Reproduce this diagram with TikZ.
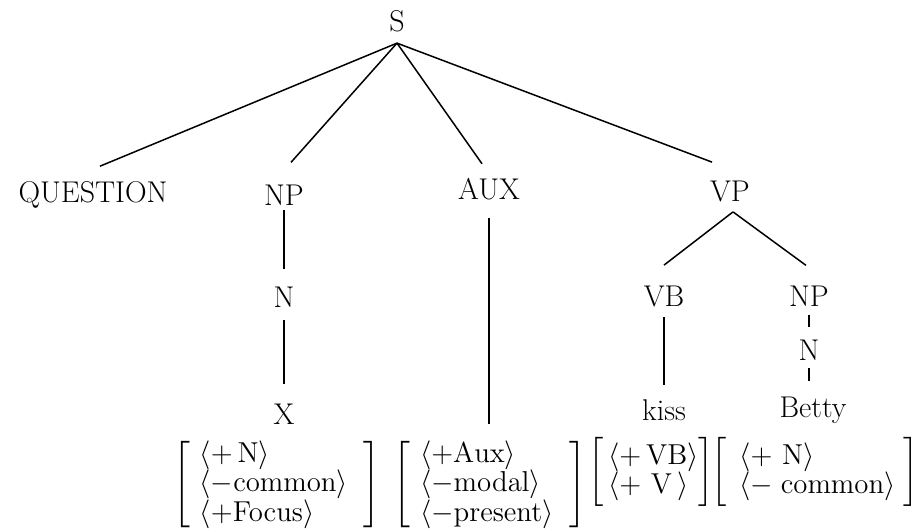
\documentclass[tikz,border=0pt]{standalone}
\usepackage{amsmath}

% feature bundles under the terminals
\newcommand{\feats}[1]{$\left[\begin{array}{@{\,\,}l@{\;\;}}#1\end{array}\right]$}
\newcommand{\featsm}[1]{$\left[\begin{array}{@{\,}l@{}}#1\end{array}\right]$}
\newcommand{\ft}[2]{\langle #1\mathrm{#2}\rangle}

\tikzset{
  cat/.style={inner sep=2pt, font=\fontsize{15}{17}\selectfont},
  bundle/.style={inner sep=0pt, font=\fontsize{13.5}{13}\selectfont},
  bundlesm/.style={inner sep=0pt, font=\fontsize{13.5}{11}\selectfont},
  branch/.style={line width=0.75pt}
}

\begin{document}
\begin{tikzpicture}[x=0.5pt,y=-0.5pt]
  \useasboundingbox (0,0) rectangle (924,531);
  % Raíz y primer nivel
  \node[cat] (S) at (397,21) {S};
  \node[cat] (question) at (93,195) {QUESTION};
  \node[cat] (np) at (284,195) {NP};
  \node[cat] (aux) at (489,189) {AUX};
  \node[cat] (vp) at (730,191) {VP};
  % Debajo de NP y VP
  \node[cat] (n) at (284,297) {N};
  \node[cat] (x) at (284,414) {X};
  \node[cat] (vb) at (664,296) {VB};
  \node[cat] (np2) at (809,296) {NP};
  \node[cat] (kiss) at (664,410) {kiss};
  \node[cat] (n2) at (809,350) {N};
  \node[cat] (betty) at (813,410) {Betty};
  % Rasgos
  \node[bundle] (fn) at (277,485)
    {\feats{\ft{+}{\,N} \\ \ft{-}{common} \\ \ft{+}{Focus}}};
  \node[bundle] (faux) at (490,485)
    {\feats{\ft{+}{Aux} \\ \ft{-}{modal} \\ \ft{-}{present}}};
  \node[bundlesm] (fvb) at (651,472)
    {\featsm{\ft{+\,}{VB} \\ \ft{+\,}{\,V\,}}};
  \node[bundlesm] (fbetty) at (815,472)
    {\featsm{\;\ft{+\,}{\,N} \\ \;\ft{-\;}{common}\;}};
  % Ramas desde S
  \draw[branch] ([shift={(0,7)}]S.south) -- ([shift={(7,-11)}]question.north);
  \draw[branch] ([shift={(0,7)}]S.south) -- ([shift={(7,-18)}]np.north);
  \draw[branch] ([shift={(0,7)}]S.south) -- ([shift={(-7,-10)}]aux.north);
  \draw[branch] ([shift={(0,7)}]S.south) -- ([shift={(-18,-14)}]vp.north);
  % Ramas inferiores
  \draw[branch] (np.south) -- ([shift={(0,-13)}]n.north);
  \draw[branch] ([shift={(0,8)}]n.south) -- ([shift={(0,-15)}]x.north);
  \draw[branch] ([shift={(0,14)}]aux.south) -- ([shift={(0,-17)}]aux.south |- faux.north);
  \draw[branch] ([shift={(3,6)}]vp.south) -- ([shift={(0,-16)}]vb.north);
  \draw[branch] ([shift={(3,6)}]vp.south) -- ([shift={(-3,-16)}]np2.north);
  \draw[branch] ([shift={(0,6)}]vb.south) -- ([shift={(0,-10)}]kiss.north);
  \draw[branch] ([shift={(0,4)}]np2.south) -- ([shift={(0,-8)}]n2.north);
  \draw[branch] ([shift={(0,3)}]n2.south) -- ([shift={(0,-11)}]n2.south |- betty.north);
\end{tikzpicture}
\end{document}
